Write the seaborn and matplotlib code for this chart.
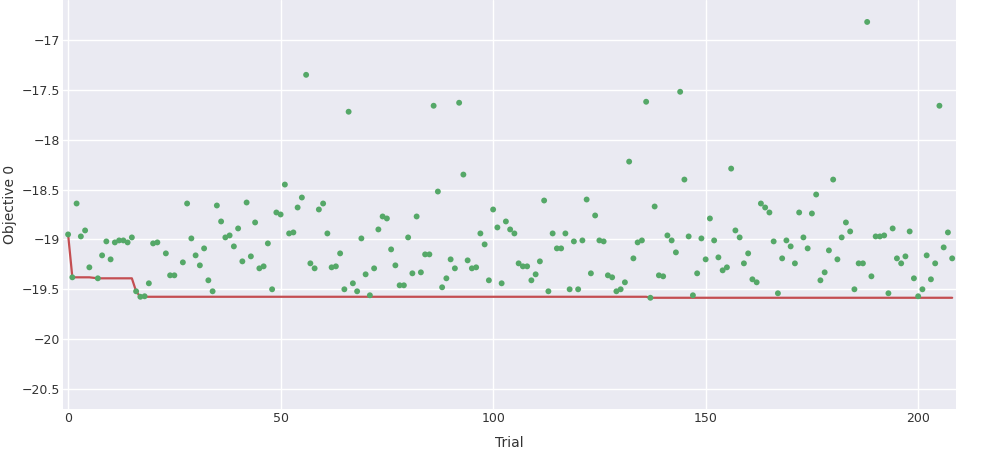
import numpy as np
import pandas as pd
import matplotlib
matplotlib.use("Agg")
import matplotlib.pyplot as plt
from matplotlib.ticker import FuncFormatter, MultipleLocator
import seaborn as sns

trials = [0, 1, 2, 3, 4, 5, 7, 8, 9, 10, 11, 12, 13, 14, 15, 16, 17, 18, 19, 20, 21,
          23, 24, 25, 27, 28, 29, 30, 31, 32, 33, 34, 35, 36, 37, 38, 39, 40,
          41, 42, 43, 44, 45, 46, 47, 48, 49, 50, 51, 52, 53, 54, 55, 56, 57, 58, 59, 60,
          61, 62, 63, 64, 65, 66, 67, 68, 69, 70, 71, 72, 73, 74, 75, 76, 77, 78, 79, 80,
          81, 82, 83, 84, 85, 86, 87, 88, 89, 90, 91, 92, 93, 94, 95, 96, 97, 98, 99, 100,
          101, 102, 103, 104, 105, 106, 107, 108, 109, 110, 111, 112, 113, 114, 115, 116, 117, 118, 119, 120,
          121, 122, 123, 124, 125, 126, 127, 128, 129, 130, 131, 132, 133, 134, 135, 136, 137, 138, 139, 140,
          141, 142, 143, 144, 145, 146, 147, 148, 149, 150, 151, 152, 153, 154, 155, 156, 157, 158, 159, 160,
          161, 162, 163, 164, 165, 166, 167, 168, 169, 170, 171, 172, 173, 174, 175, 176, 177, 178, 179, 180,
          181, 182, 183, 184, 185, 186, 187, 188, 189, 190, 191, 192, 193, 194, 195, 196, 197, 198, 199, 200,
          201, 202, 203, 204, 205, 206, 207, 208]

objective = [-18.95, -19.38, -18.64, -18.97, -18.91, -19.28, -19.39, -19.16, -19.02, -19.20,
             -19.03, -19.01, -19.01, -19.03, -18.98, -19.52, -19.575, -19.57, -19.44, -19.04, -19.03,
             -19.14, -19.36, -19.36, -19.23, -18.64, -18.99, -19.16, -19.26, -19.09, -19.41, -19.52,
             -18.66, -18.82, -18.98, -18.96, -19.07, -18.89,
             -19.22, -18.63, -19.17, -18.83, -19.29, -19.27, -19.04, -19.50, -18.73, -18.75,
             -18.45, -18.94, -18.93, -18.68, -18.58, -17.35, -19.24, -19.29, -18.70, -18.64,
             -18.94, -19.28, -19.27, -19.14, -19.50, -17.72, -19.44, -19.52, -18.99, -19.35,
             -19.56, -19.29, -18.90, -18.77, -18.79, -19.10, -19.26, -19.46, -19.46, -18.98,
             -19.34, -18.77, -19.33, -19.15, -19.15, -17.66, -18.52, -19.48, -19.39, -19.20,
             -19.29, -17.63, -18.35, -19.21, -19.29, -19.28, -18.94, -19.05, -19.41, -18.70,
             -18.88, -19.44, -18.82, -18.90, -18.94, -19.24, -19.27, -19.27, -19.41, -19.35,
             -19.22, -18.61, -19.52, -18.94, -19.09, -19.09, -18.94, -19.50, -19.02, -19.50,
             -19.01, -18.60, -19.34, -18.76, -19.01, -19.02, -19.36, -19.38, -19.52, -19.50,
             -19.43, -18.22, -19.19, -19.03, -19.01, -17.62, -19.585, -18.67, -19.36, -19.37,
             -18.96, -19.01, -19.13, -17.52, -18.40, -18.97, -19.56, -19.34, -18.99, -19.20,
             -18.79, -19.01, -19.18, -19.31, -19.28, -18.29, -18.91, -18.98, -19.24, -19.14,
             -19.40, -19.43, -18.64, -18.68, -18.73, -19.02, -19.54, -19.19, -19.01, -19.07,
             -19.24, -18.73, -18.98, -19.09, -18.74, -18.55, -19.41, -19.33, -19.11, -18.40,
             -19.20, -18.98, -18.83, -18.92, -19.50, -19.24, -19.24, -16.82, -19.37, -18.97,
             -18.97, -18.96, -19.54, -18.89, -19.19, -19.24, -19.17, -18.92, -19.39, -19.57,
             -19.50, -19.16, -19.40, -19.24, -17.66, -19.08, -18.93, -19.19]

x_label = "Trial"
y_label = "Objective 0"

df = pd.DataFrame({"trial": trials, "value": objective})
df["best"] = np.minimum.accumulate(df["value"].values)

sns.set_theme(style="darkgrid")
plt.rcParams['font.family'] = ['DejaVu Sans']
text_color = "#333333"

fig = plt.figure(figsize=(10.05, 4.5), dpi=100)
ax = fig.add_axes([63 / 1005, 1 - 409 / 450, (956 - 63) / 1005, 409 / 450])

sns.scatterplot(data=df, x="trial", y="value", ax=ax, color="#55A868", s=18,
                edgecolor="none", zorder=3, legend=False)
sns.lineplot(data=df, x="trial", y="best", ax=ax, color="#C44E52", linewidth=1.6,
             zorder=2, legend=False)

ax.set_xlim(-1.2, 208.9)
ax.set_ylim(-20.70, -16.60)
ax.xaxis.set_major_locator(MultipleLocator(50))
ax.yaxis.set_major_locator(MultipleLocator(0.5))
fmt = FuncFormatter(lambda v, p: ("%g" % v).replace("-", "\u2212"))
ax.yaxis.set_major_formatter(fmt)
ax.xaxis.set_major_formatter(fmt)
ax.tick_params(axis="both", labelsize=9, colors=text_color, length=0, pad=2)
ax.set_xlabel(x_label, fontsize=10, color=text_color, labelpad=8)
ax.set_ylabel(y_label, fontsize=10, color=text_color)
ax.yaxis.set_label_coords(-0.052, 0.5)
for s in ax.spines.values():
    s.set_visible(False)

fig.savefig("out.png", dpi=100)
